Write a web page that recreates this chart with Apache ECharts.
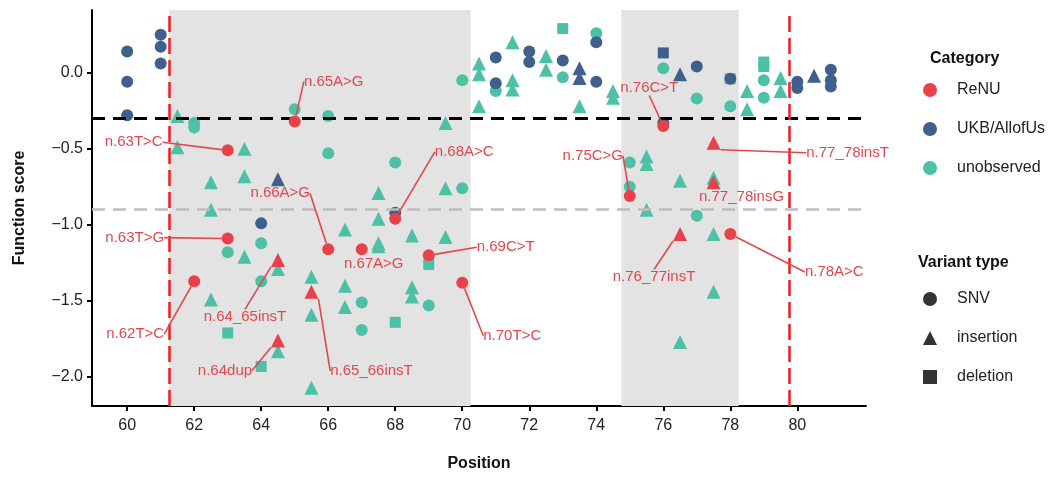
<!DOCTYPE html>
<html>
<head>
<meta charset="utf-8">
<script src="https://cdn.jsdelivr.net/npm/echarts@6/dist/echarts.min.js"></script>
<style>
  html, body { margin: 0; padding: 0; background: #fff; }
  #chart { width: 1064px; height: 477px; }
</style>
</head>
<body>
<div id="chart"></div>
<script>
// ---------- data ----------
var xTicks = [60, 62, 64, 66, 68, 70, 72, 74, 76, 78, 80];
var yTicks = [0, -0.5, -1, -1.5, -2];

// unobserved
var unobsSNV = [[62,-0.33],[62,-0.36],[63,-1.18],[64,-1.12],[64,-1.37],[65,-0.24],[66,-0.285],[66,-0.53],
  [67,-1.51],[67,-1.69],[68,-0.59],[69,-1.53],[70,-0.05],[70,-0.76],[71,-0.12],[73,-0.03],[74,0.26],
  [75,-0.59],[75,-0.75],[76,0.03],[77,-0.17],[77,-0.94],[78,-0.22],[79,-0.05],[79,-0.165]];
var unobsIns = [[61.5,-0.285],[61.5,-0.49],[62.5,-0.72],[62.5,-0.90],[62.5,-1.49],[63.5,-0.50],[63.5,-0.68],
  [63.5,-1.21],[64.5,-1.29],[64.5,-1.83],[65.5,-1.34],[65.5,-1.59],[65.5,-2.07],[66.5,-1.03],[66.5,-1.40],
  [66.5,-1.54],[67.5,-0.79],[67.5,-0.96],[67.5,-1.12],[67.5,-1.14],[68.5,-1.07],[68.5,-1.41],[68.5,-1.47],
  [69.5,-0.33],[69.5,-0.76],[69.5,-1.08],[70.5,0.06],[70.5,-0.01],[70.5,-0.22],[71.5,0.20],[71.5,-0.05],
  [71.5,-0.11],[72.5,0.11],[72.5,0.02],[73.5,-0.22],[74.5,-0.12],[74.5,-0.165],[75.5,-0.55],[75.5,-0.60],
  [75.5,-0.90],[76.5,-0.71],[76.5,-1.77],[77.5,-0.69],[77.5,-1.06],[77.5,-1.44],[78.5,-0.12],[78.5,-0.24],
  [79.5,-0.035],[79.5,-0.12]];
var unobsDel = [[63,-1.71],[64,-1.93],[68,-1.64],[69,-1.26],[73,0.29],[78,-0.04],[79,0.07],[79,0.04]];

// UKB/AllofUs
var ukbSNV = [[60,0.14],[60,-0.06],[60,-0.28],[61,0.25],[61,0.17],[61,0.06],[64,-0.99],[68,-0.92],
  [71,0.10],[71,-0.07],[72,0.14],[72,0.07],[73,0.08],[74,0.20],[74,-0.06],[76,-0.33],[77,0.04],
  [78,-0.04],[80,-0.06],[80,-0.10],[81,0.02],[81,-0.05],[81,-0.09]];
var ukbIns = [[64.5,-0.70],[73.5,0.03],[73.5,-0.035],[76.5,-0.01],[80.5,-0.02]];
var ukbDel = [[76,0.13]];

// ReNU (annotated)
var renuSnvPos   = [62, 63, 63, 65, 66, 67, 68, 69, 70, 75, 76, 78];
var renuSnvScore = [-1.37, -0.51, -1.09, -0.32, -1.16, -1.16, -0.96, -1.20, -1.38, -0.81, -0.35, -1.06];
var renuSnvLabel = ['n.62T>C','n.63T>C','n.63T>G','n.65A>G','n.66A>G','n.67A>G','n.68A>C','n.69C>T',
  'n.70T>C','n.75C>G','n.76C>T','n.78A>C'];
var renuInsPos   = [64.5, 64.5, 65.5, 76.5, 77.5, 77.5];
var renuInsScore = [-1.23, -1.76, -1.44, -1.06, -0.46, -0.72];
var renuInsLabel = ['n.64_65insT','n.64dup','n.65_66insT','n.76_77insT','n.77_78insT','n.77_78insG'];

var lowerHline = -0.9, upperHline = -0.3;
var regionBounds = [61.25, 79.75];
var shadeBands = [[61.25, 70.25], [74.75, 78.25]];

// label placement: pixel offset from the point, third value = draw leader line
var snvOffsets = [[-59,53,1],[-94,-8,1],[-93,-1,1],[39,-40,1],[-48,-56,1],[12,15,0],[69,-67,1],
  [77,-8,1],[50,53,1],[-37,-40,1],[-14,-38,1],[104,38,1]];
var insOffsets = [[-33,57,1],[-53,30,1],[60,79,1],[-26,43,1],[134,10,1],[28,15,0]];

// ---------- colours ----------
var RED = '#E8414B', BLUE = '#3F5F8C', TEAL = '#4CC1A6', LABEL_RED = '#E2474F';
var FONT = 'Liberation Sans, Arial, sans-serif';

function fmtMinus(v) {
  var s = Number(v).toFixed(1);
  return s.replace('-', '\u2212');
}

function renuData(pos, score, labels, offsets) {
  return pos.map(function (p, i) {
    return {
      value: [p, score[i]],
      name: labels[i],
      labelLine: { show: !!offsets[i][2] }
    };
  });
}

function pts(color, symbol, size, name, data, z) {
  return {
    type: 'scatter', name: name, data: data, symbol: symbol, symbolSize: size,
    itemStyle: { color: color, opacity: 1 }, z: z || 3, silent: true
  };
}

function renuSeries(symbol, size, data, offsets) {
  var s = pts(RED, symbol, size, 'ReNU', data, 5);
  s.label = {
    show: true, position: 'inside', formatter: function (p) { return p.name; },
    color: LABEL_RED, fontSize: 15, fontFamily: FONT
  };
  s.labelLine = { show: true, length2: 0, lineStyle: { color: LABEL_RED, width: 1.6 } };
  s.labelLayout = function (p) {
    var o = offsets[p.dataIndex];
    return { dx: o[0], dy: o[1] };
  };
  return s;
}

var chart = echarts.init(document.getElementById('chart'), null, { renderer: 'canvas' });

var option = {
  animation: false,
  backgroundColor: '#fff',
  title: [
    { text: 'Category', left: 925, top: 46, textStyle: { fontSize: 16, fontWeight: 'bold', color: '#111', fontFamily: FONT } },
    { text: 'Variant type', left: 913, top: 250, textStyle: { fontSize: 16, fontWeight: 'bold', color: '#111', fontFamily: FONT } }
  ],
  legend: [
    {
      orient: 'vertical', left: 918, top: 77, itemWidth: 14, itemHeight: 14, itemGap: 23,
      selectedMode: false,
      textStyle: { fontSize: 16, color: '#222', fontFamily: FONT, padding: [0, 0, 0, 15] },
      data: [{ name: 'ReNU', icon: 'circle' }, { name: 'UKB/AllofUs', icon: 'circle' }, { name: 'unobserved', icon: 'circle' }]
    },
    {
      orient: 'vertical', left: 918, top: 286, itemWidth: 14, itemHeight: 14, itemGap: 23,
      selectedMode: false,
      textStyle: { fontSize: 16, color: '#222', fontFamily: FONT, padding: [0, 0, 0, 15] },
      data: [{ name: 'SNV', icon: 'circle' }, { name: 'insertion', icon: 'triangle' }, { name: 'deletion', icon: 'rect' }]
    }
  ],
  grid: { left: 92, right: 198, top: 10, bottom: 68, containLabel: false },
  xAxis: {
    type: 'value', min: 58.95, max: 82.05,
    name: 'Position', nameLocation: 'middle', nameGap: 50,
    nameTextStyle: { fontSize: 16, fontWeight: 'bold', color: '#111', fontFamily: FONT },
    axisLine: { onZero: false, lineStyle: { color: '#000', width: 2 } },
    axisTick: { show: true, length: 5, lineStyle: { color: '#000', width: 2 }, customValues: xTicks },
    axisLabel: { customValues: xTicks, margin: 12, fontSize: 16, color: '#222', fontFamily: FONT },
    splitLine: { show: false }
  },
  yAxis: {
    type: 'value', min: -2.19, max: 0.412,
    name: 'Function score', nameLocation: 'middle', nameGap: 64, nameRotate: 90,
    nameTextStyle: { fontSize: 16, fontWeight: 'bold', color: '#111', fontFamily: FONT },
    axisLine: { onZero: false, lineStyle: { color: '#000', width: 2 } },
    axisTick: { show: true, length: 5, lineStyle: { color: '#000', width: 2 }, customValues: yTicks },
    axisLabel: { customValues: yTicks, margin: 9, fontSize: 16, color: '#222', fontFamily: FONT, formatter: fmtMinus },
    splitLine: { show: false }
  },
  series: [
    {
      type: 'scatter', name: 'bg', data: [], silent: true, z: 1,
      markArea: {
        silent: true,
        itemStyle: { color: '#E3E3E3' },
        data: shadeBands.map(function (b) { return [{ xAxis: b[0] }, { xAxis: b[1] }]; })
      },
      markLine: {
        silent: true, symbol: ['none', 'none'], label: { show: false },
        data: [
          { yAxis: upperHline, lineStyle: { color: '#000', width: 3, type: [13, 8] } },
          { yAxis: lowerHline, lineStyle: { color: '#BDBDBD', width: 2.5, type: [13, 8] } },
          { xAxis: regionBounds[0], lineStyle: { color: '#EE1C25', width: 2.5, type: [16, 6] } },
          { xAxis: regionBounds[1], lineStyle: { color: '#EE1C25', width: 2.5, type: [16, 6] } }
        ]
      }
    },
    pts(TEAL, 'circle', 12, 'unobserved', unobsSNV),
    pts(TEAL, 'triangle', 14, 'unobserved', unobsIns),
    pts(TEAL, 'rect', 11, 'unobserved', unobsDel),
    pts(BLUE, 'circle', 12, 'UKB/AllofUs', ukbSNV, 4),
    pts(BLUE, 'triangle', 14, 'UKB/AllofUs', ukbIns, 4),
    pts(BLUE, 'rect', 11, 'UKB/AllofUs', ukbDel, 4),
    renuSeries('circle', 12, renuData(renuSnvPos, renuSnvScore, renuSnvLabel, snvOffsets), snvOffsets),
    renuSeries('triangle', 14, renuData(renuInsPos, renuInsScore, renuInsLabel, insOffsets), insOffsets),
    { type: 'scatter', name: 'SNV', data: [], symbol: 'circle', itemStyle: { color: '#000' } },
    { type: 'scatter', name: 'insertion', data: [], symbol: 'triangle', itemStyle: { color: '#000' } },
    { type: 'scatter', name: 'deletion', data: [], symbol: 'rect', itemStyle: { color: '#000' } }
  ]
};

chart.setOption(option);
</script>
</body>
</html>
